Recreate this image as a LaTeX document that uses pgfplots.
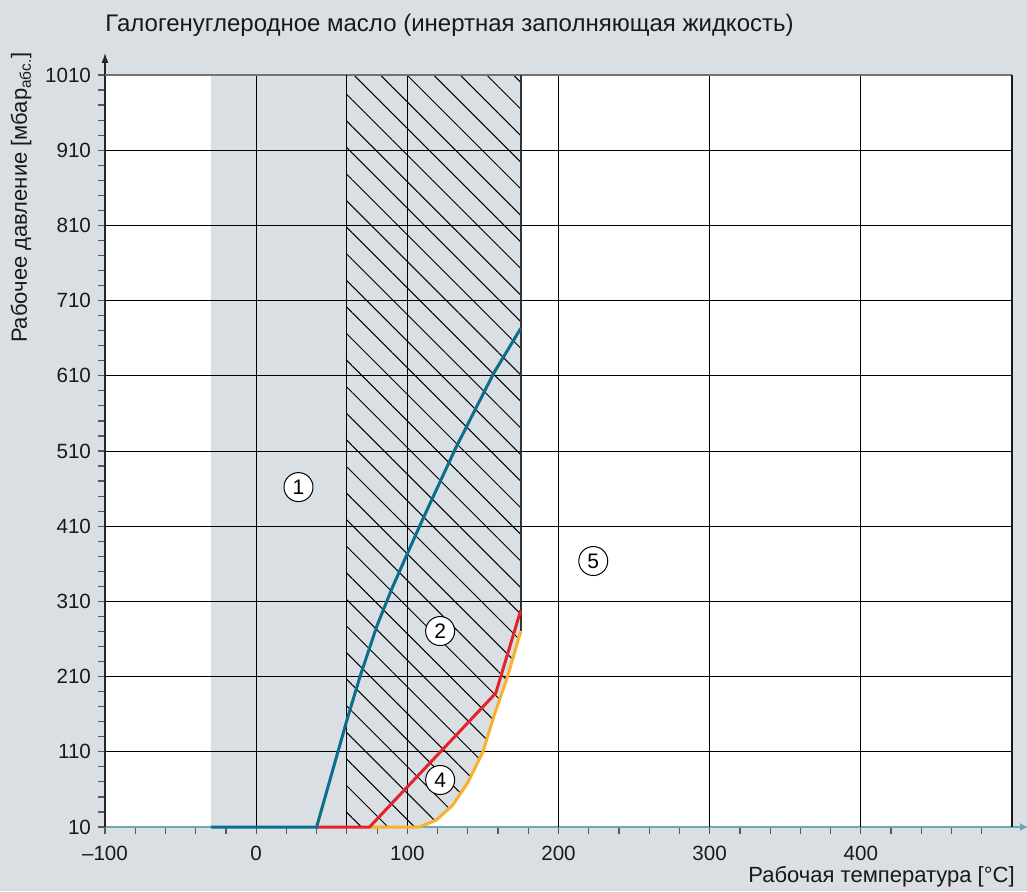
\documentclass[border=0pt]{standalone}
\usepackage{fontspec}
\setmainfont{Liberation Sans}
\usepackage{pgfplots}
\pgfplotsset{compat=1.18}
\usetikzlibrary{patterns.meta,arrows.meta}
\definecolor{pagebg}{HTML}{D9DFE3}
\definecolor{regiongray}{HTML}{D9DFE3}
\definecolor{petrol}{HTML}{0B6E8C}
\definecolor{redl}{HTML}{E3242B}
\definecolor{yell}{HTML}{F9B02A}
\definecolor{axisteal}{HTML}{6FA6B8}
\begin{document}
\begin{tikzpicture}
\fill[pagebg] (-52.5pt,-32pt) rectangle (461pt,413.5pt);
\fill[white] (0pt,0pt) rectangle (453.5pt,376pt);
\begin{axis}[
  at={(0pt,0pt)}, anchor=south west,
  scale only axis, width=453.5pt, height=376pt,
  xmin=-100, xmax=500, ymin=10, ymax=1010,
  axis x line=bottom, axis y line=left,
  x axis line style={draw=axisteal, line width=0.6pt, -{Latex[length=4pt,width=4pt]}, shorten >=-8pt},
  y axis line style={draw=black!85, line width=0.6pt, -{Latex[length=5pt,width=3.5pt]}, shorten >=-11pt},
  xtick={-100,0,...,400}, xticklabels={–100,0,100,200,300,400},
  ytick={10,110,...,1010}, yticklabels={10,110,210,310,410,510,610,710,810,910,1010},
  minor xtick={-80,-60,...,480}, minor ytick={30,50,...,990},
  tick align=outside, major tick length=3.5pt, minor tick length=3.5pt,
  tick style={draw=black!65, line width=0.6pt},
  ticklabel style={font=\fontsize{10.3}{12}\selectfont, text=black!90},
  xticklabel style={yshift=-2.5pt},
  clip=false,
]
% grey region (1) bounded on the right by the yellow curve
\addplot[fill=regiongray, draw=none] coordinates {(-30,10) (-30,1010) (175,1010) (175,270) (166,208) (158,162) (150,110) (140,69) (130,39) (119,19) (108,10)} -- cycle;
% hatched region (2)
\addplot[draw=none, pattern={Lines[angle=-45,distance=9.4pt,line width=0.5pt]}, pattern color=black] coordinates {(60,10) (60,1010) (175,1010) (175,270) (166,208) (158,162) (150,110) (140,69) (130,39) (119,19) (108,10)} -- cycle;
% grid
\pgfplotsinvokeforeach{110,210,310,410,510,610,710,810,910}{
  \draw[black, line width=0.5pt] (axis cs:-100,#1) -- (axis cs:500,#1);
}
\pgfplotsinvokeforeach{0,100,200,300,400}{
  \draw[black, line width=0.5pt] (axis cs:#1,10) -- (axis cs:#1,1010);
}
\draw[black!55, line width=1pt] (axis cs:-100,1010) -- (axis cs:500,1010);
\draw[black!90, line width=0.8pt] (axis cs:500,10) -- (axis cs:500,1010);
\draw[black, line width=0.6pt] (axis cs:60,10) -- (axis cs:60,1010);
\draw[black!80, line width=1pt] (axis cs:175,270) -- (axis cs:175,1010);
% curves
\addplot[yell, line width=1.5pt] coordinates {(75,10) (108,10) (119,19) (130,39) (140,69) (150,110) (158,162) (166,208) (175,270)};
\addplot[redl, line width=1.5pt] coordinates {(40,10) (75,10) (158.5,188) (175,298)};
\addplot[petrol, line width=1.5pt] coordinates {(-30,10) (40,10) (60,152) (69,212) (80,278) (90,328) (99,369) (109,414) (132,514) (157,613) (175,673)};
% circled labels
\tikzset{circ/.style={circle, draw=black, line width=0.5pt, fill=white, inner sep=0pt, minimum size=14.5pt, font=\fontsize{10.5}{11}\selectfont}}
\node[circ] at (axis cs:28,462) {1};
\node[circ] at (axis cs:121.7,270.6) {2};
\node[circ] at (axis cs:121.7,72.5) {4};
\node[circ] at (axis cs:223,363.7) {5};
\end{axis}
\node[inner sep=0pt, anchor=base west, font=\fontsize{12}{14}\selectfont, text=black!90] at (0pt,397.5pt) {Галогенуглеродное масло (инертная заполняющая жидкость)};
\node[inner sep=0pt, anchor=base east, font=\fontsize{11}{13}\selectfont, text=black!90] at (455pt,-27.5pt) {Рабочая температура [°C]};
\node[inner sep=0pt, anchor=base east, rotate=90, font=\fontsize{11}{13}\selectfont, text=black!90] at (-39pt,387.5pt) {Рабочее давление [мбар\textsubscript{абс.}]};
\pgfresetboundingbox
\path[use as bounding box] (-52.5pt,-32pt) rectangle (461pt,413.5pt);
\end{tikzpicture}
\end{document}
